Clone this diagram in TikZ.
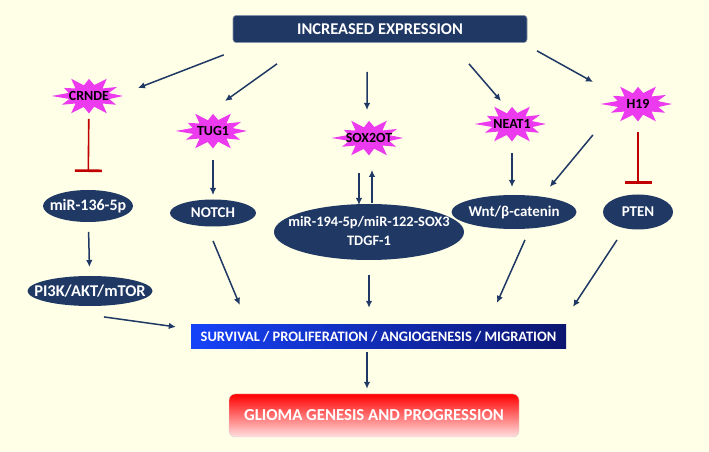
\documentclass[tikz,border=0pt]{standalone}
\usepackage{fontspec}
\setmainfont{Carlito}
\usetikzlibrary{shapes.geometric,arrows.meta,backgrounds}
\definecolor{navy}{RGB}{31,56,100}
\definecolor{starpink}{RGB}{236,58,238}
\definecolor{inhred}{RGB}{192,0,0}
\definecolor{paper}{RGB}{255,255,231}
\definecolor{barblue}{RGB}{22,66,248}
\definecolor{bardark}{RGB}{12,22,112}
\newcommand{\zerow}[1]{\makebox[0pt]{#1}}
% angle/radius factor of the burst outline
\newcommand{\blastpts}{15/0.6,30/0.95,45/0.56,60/1.05,75/0.6,90/0.9,105/0.58,120/1.05,135/0.56,150/0.85,165/0.62,180/1.1,195/0.6,210/0.92,225/0.56,240/1.05,255/0.6,270/0.92,285/0.58,300/1.05,315/0.56,330/0.92,345/0.62}
\begin{document}
\begin{tikzpicture}[>={Latex[length=7bp,width=6.5bp]},line join=bevel,
  burst/.style={inner sep=0pt,text=black,font=\bfseries\fontsize{14}{15}\selectfont},
  oval/.style={ellipse,fill=navy,draw=none,text=white,inner sep=0pt,font=\bfseries\fontsize{14.5}{19}\selectfont},
  arr/.style={navy,line width=1.5bp,->},
  inh/.style={inhred,line width=1.6bp,-{Bar[width=27bp,line width=2.6bp]}}]
%%
\useasboundingbox (0bp,0bp) rectangle (709bp,452bp);
%%
\node (top) at (380bp,423bp) [rectangle,rounded corners=3bp,fill=navy,draw=navy!55!white,line width=0.6bp,minimum width=294bp,minimum height=27bp,text=white,font=\bfseries\fontsize{16.5}{18}\selectfont] {INCREASED EXPRESSION};
  \node (crnde) at (89bp,356bp) [burst] {CRNDE};
  \node (tug1) at (213bp,321bp) [burst] {TUG1};
  \node (sox) at (369bp,314bp) [burst] {SOX2OT};
  \node (neat1) at (512bp,328bp) [burst] {NEAT1};
  \node (h19) at (638bp,348bp) [burst] {H19};
%
  \node (mir136) at (88bp,246bp) [oval,minimum width=90bp,minimum height=32bp,font=\bfseries\fontsize{16}{18}\selectfont] {\zerow{miR-136-5p}};
  \node (notch) at (213bp,239bp) [oval,minimum width=86bp,minimum height=27bp,font=\bfseries\fontsize{15}{18}\selectfont] {\zerow{NOTCH}};
  \node (mir194) at (369bp,220bp) [oval,minimum width=190bp,minimum height=56bp] {\zerow{\begin{tabular}{@{}c@{}}miR-194-5p/miR-122-SOX3\\TDGF-1\end{tabular}}};
  \node (wnt) at (514bp,240bp) [oval,minimum width=125bp,minimum height=34bp,font=\bfseries\fontsize{15}{18}\selectfont] {\zerow{Wnt/β-catenin}};
  \node (pten) at (638bp,240bp) [oval,minimum width=70bp,minimum height=35bp,font=\bfseries\fontsize{15}{18}\selectfont] {\zerow{PTEN}};
  \node (pi3k) at (90bp,161bp) [oval,minimum width=125bp,minimum height=30bp,font=\bfseries\fontsize{16.5}{18}\selectfont] {\zerow{PI3K/AKT/mTOR}};
%
  \node (surv) at (378.5bp,115bp) [rectangle,minimum width=375bp,minimum height=24bp,left color=barblue,middle color=barblue!80!bardark,right color=bardark,text=white,font=\bfseries\fontsize{14.5}{16}\selectfont] {SURVIVAL / PROLIFERATION / ANGIOGENESIS / MIGRATION};
  \node (glioma) at (374bp,36.5bp) [rectangle,rounded corners=6bp,minimum width=290bp,minimum height=43bp,top color=red,middle color=red,bottom color=red!12!white,draw=gray!35,text=white,font=\bfseries\fontsize{16.8}{18}\selectfont] {GLIOMA GENESIS AND PROGRESSION};
%%
\begin{pgfonlayer}{background}
\fill [paper] (0bp,0bp) rectangle (709bp,452bp);
\foreach \n in {crnde,tug1,sox,neat1,h19}
  \fill [starpink,shift={(\n.center)}] (0:34bp and 19bp) \foreach \a/\k in \blastpts { -- (\a:{\k*34bp} and {\k*19bp}) } -- cycle;
\end{pgfonlayer}
%%
\coordinate (t1) at (138bp,364bp);
\coordinate (t2) at (225bp,351bp);
\coordinate (t3) at (367bp,342bp);
\coordinate (t4) at (501bp,351bp);
\coordinate (t5) at (593bp,370bp);
  \draw [arr,shorten <=33.5bp] ([xshift=-125bp]top.south) -- (t1);
  \draw [arr,shorten <=36.2bp] ([xshift=-73.5bp]top.south) -- (t2);
  \draw [arr,shorten <=29bp] ([xshift=-13bp]top.south) -- (t3);
  \draw [arr,shorten <=27.8bp] ([xshift=70.8bp]top.south) -- (t4);
  \draw [arr,shorten <=16.6bp] ([xshift=142.5bp]top.south) -- (t5);
%
  \draw [inh,shorten <=23bp,shorten >=34bp] (crnde.center) -- (mir136.center);
  \draw [inh,shorten <=28bp,shorten >=28bp] (h19.center) -- (pten.center);
%
  \draw [arr,shorten <=26bp,shorten >=24bp] (mir136.center) -- (pi3k.center);
  \draw [arr,shorten <=29bp,shorten >=18bp] (tug1.center) -- (notch.center);
  \draw [arr,shorten <=35bp,shorten >=27bp] ([xshift=-10bp]sox.center) -- ([xshift=-10bp]mir194.center);
  \draw [arr,shorten <=29bp,shorten >=32bp] ([xshift=3bp]mir194.center) -- ([xshift=3bp]sox.center);
  \draw [arr,shorten <=29bp,shorten >=25bp] (neat1.center) -- (neat1.center |- wnt.center);
  \draw [arr,shorten <=40.2bp,shorten >=32.6bp] ([xshift=-19.4bp]h19.center) -- ([xshift=15bp]wnt.center);
%
  \draw [arr,shorten <=30.3bp,shorten >=21.5bp] ([xshift=-11.6bp]notch.center) -- ([xshift=-130.5bp]surv.north);
  \draw [arr,shorten <=43bp,shorten >=17bp] (mir194.center) -- (mir194.center |- surv.north);
  \draw [arr,shorten <=30.6bp,shorten >=24bp] ([xshift=23.4bp]wnt.center) -- ([xshift=108.7bp]surv.north);
  \draw [arr,shorten <=33.5bp,shorten >=21.5bp] ([xshift=-2.6bp]pten.center) -- ([xshift=182.7bp]surv.north);
  \draw [arr,shorten <=14.1bp,shorten >=15.1bp] ([yshift=-24bp]pi3k.center) -- ([yshift=8bp]surv.west);
  \draw [arr,shorten <=3bp,shorten >=5bp] ([xshift=-2bp]surv.south -| mir194) -- ([xshift=-2bp]glioma.north -| mir194);
%
\end{tikzpicture}
\end{document}
